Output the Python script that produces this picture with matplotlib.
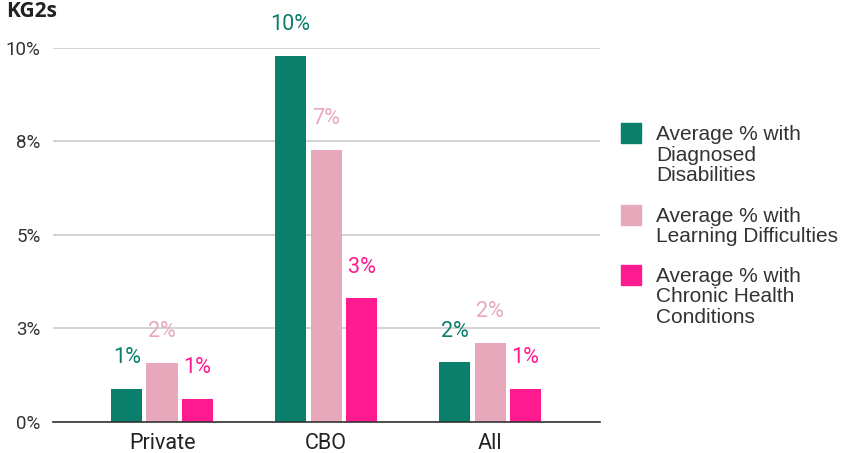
import matplotlib
matplotlib.use("Agg")
import matplotlib.pyplot as plt
from matplotlib.patches import Rectangle
import numpy as np

title = "KG2s"
categories = ["Private", "CBO", "All"]
series_names = [
    "Average % with\nDiagnosed\nDisabilities",
    "Average % with\nLearning Difficulties",
    "Average % with\nChronic Health\nConditions",
]
diagnosed = [0.87, 9.78, 1.59]
learning = [1.58, 7.28, 2.12]
chronic = [0.61, 3.30, 0.88]
series_values = [diagnosed, learning, chronic]
colors = ["#0a7f6b", "#e8a8bc", "#ff1a8f"]
yticks = [0, 2.5, 5, 7.5, 10]
ytick_labels = ["0%", "3%", "5%", "8%", "10%"]

W, H = 843, 453
fig = plt.figure(figsize=(W / 100, H / 100), dpi=100)
ax = fig.add_axes([53 / W, 1 - 422 / H, (600 - 53) / W, (422 - 47.7) / H])

x = np.arange(len(categories))
offset = 0.216
width = 0.19
for i, (vals, col) in enumerate(zip(series_values, colors)):
    xs = x + (i - 1) * offset
    ax.bar(xs, vals, width=width, color=col, zorder=3)
    for xi, v in zip(xs, vals):
        ax.annotate(f"{round(v):.0f}%", (xi, v), xytext=(0, 18.7), textcoords="offset points",
                    ha="center", va="baseline", color=col, fontsize=15.5, family="Roboto",
                    annotation_clip=False)

ax.set_xlim(-0.665, 2.67)
ax.set_ylim(0, 10)
ax.set_yticks(yticks)
ax.set_yticklabels(ytick_labels, family="Roboto", fontsize=13.5, color="#333333")
ax.set_xticks(x)
ax.set_xticklabels(categories, family="Roboto", fontsize=15.5, color="#222222")
ax.tick_params(length=0, pad=8)
ax.tick_params(axis="y", pad=9)
ax.grid(axis="y", color="#cccccc", linewidth=1.2, zorder=0)
for s in ["top", "right", "left"]:
    ax.spines[s].set_visible(False)
ax.spines["bottom"].set_color("#333333")
ax.spines["bottom"].set_linewidth(1.2)
ax.spines["bottom"].set_zorder(4)

fig.text(6 / W, 1 - 17 / H, title, fontsize=15, fontweight="bold", family="Open Sans",
         va="baseline", ha="left", color="#222222")

# legend
sq_tops = [123, 205, 265]
for name, col, top in zip(series_names, colors, sq_tops):
    fig.patches.append(Rectangle((621 / W, 1 - (top + 20) / H), 20 / W, 20 / H,
                                 transform=fig.transFigure, color=col, figure=fig))
    fig.text(656 / W, 1 - (top + 2) / H, name, fontsize=15, family="Liberation Sans",
             va="top", ha="left", color="#333333", linespacing=1.1)

fig.savefig("out.png", dpi=100)
